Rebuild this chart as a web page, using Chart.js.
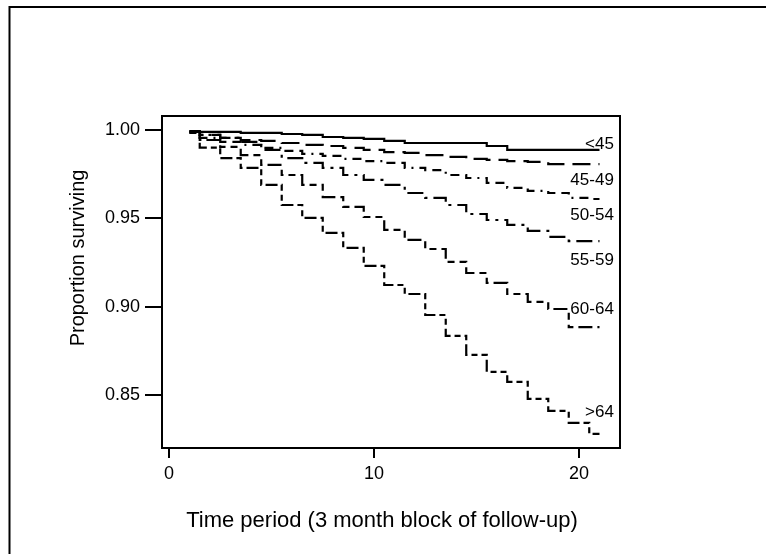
<!DOCTYPE html>
<html>
<head>
<meta charset="utf-8">
<script src="https://cdn.jsdelivr.net/npm/chart.js@4/dist/chart.umd.min.js"></script>
<style>
html,body{margin:0;padding:0;background:#fff;}
#wrap{position:relative;width:766px;height:554px;}
</style>
</head>
<body>
<div id="wrap"><canvas id="c" width="766" height="554"></canvas></div>
<script>
// ---- data ----
const periods = [1,2,3,4,5,6,7,8,9,10,11,12,13,14,15,16,17,18,19,20,21];
const groupLabels = ['<45','45-49','50-54','55-59','60-64','>64'];
const survUnder45 = [0.9994,0.9989,0.9989,0.9983,0.9983,0.9977,0.9972,0.9960,0.9955,0.9950,0.9938,0.9926,0.9926,0.9926,0.9926,0.9909,0.9887,0.9887,0.9887,0.9887,0.9887];
const surv45to49 = [0.9994,0.9972,0.9955,0.9943,0.9938,0.9926,0.9915,0.9909,0.9898,0.9887,0.9875,0.9870,0.9858,0.9847,0.9836,0.9830,0.9824,0.9819,0.9807,0.9807,0.9807];
const surv50to54 = [0.9989,0.9955,0.9932,0.9915,0.9898,0.9881,0.9864,0.9853,0.9836,0.9824,0.9813,0.9785,0.9773,0.9745,0.9728,0.9700,0.9672,0.9655,0.9643,0.9615,0.9609];
const surv55to59 = [0.9989,0.9972,0.9955,0.9932,0.9887,0.9841,0.9813,0.9785,0.9745,0.9717,0.9689,0.9643,0.9615,0.9575,0.9524,0.9490,0.9462,0.9428,0.9394,0.9371,0.9371];
const surv60to64 = [0.9983,0.9943,0.9904,0.9858,0.9802,0.9745,0.9689,0.9620,0.9564,0.9507,0.9434,0.9377,0.9326,0.9253,0.9190,0.9134,0.9071,0.9026,0.8986,0.8884,0.8884];
const survOver64 = [0.9983,0.9900,0.9841,0.9785,0.9689,0.9575,0.9502,0.9417,0.9332,0.9230,0.9122,0.9071,0.8952,0.8834,0.8726,0.8630,0.8573,0.8477,0.8409,0.8341,0.8279];
const xTickValues = [0, 10, 20];
const yTickValues = [0.85, 0.90, 0.95, 1.00];
const xTitle = 'Time period (3 month block of follow-up)';
const yTitle = 'Proportion surviving';

// ---- styling ----
const FONT = "'Liberation Sans', Arial, Helvetica, sans-serif";
Chart.defaults.font.family = FONT;
Chart.defaults.color = '#000';

const seriesValues = [survUnder45, surv45to49, surv50to54, surv55to59, surv60to64, survOver64];
const dashes = [[], [18,8], [9,6,9,6,2,6], [16,6,3,6], [7,5,7,5,14,5], [6,4,6,4,12,4]];
// label anchor (value units) for each series label
const labelAnchors = [
  {x: 21.7, y: 0.9921},
  {x: 21.7, y: 0.9717},
  {x: 21.7, y: 0.9519},
  {x: 21.7, y: 0.9264},
  {x: 21.7, y: 0.8986},
  {x: 21.7, y: 0.8403}
];

const datasets = seriesValues.map((vals, i) => ({
  label: groupLabels[i],
  data: periods.map((t, j) => ({x: t, y: vals[j]})),
  stepped: 'middle',
  borderColor: '#000',
  borderWidth: 2.2,
  borderDash: dashes[i],
  pointRadius: 0,
  fill: false
}));

const decor = {
  id: 'decor',
  afterDraw(chart) {
    const {ctx, chartArea: a, scales: {x, y}} = chart;
    ctx.save();
    ctx.strokeStyle = '#000';
    ctx.lineWidth = 2;
    ctx.setLineDash([]);
    ctx.strokeRect(a.left, a.top, a.right - a.left, a.bottom - a.top);
    // outer frame (left & top)
    ctx.beginPath();
    ctx.moveTo(9.5, 554);
    ctx.lineTo(9.5, 7);
    ctx.lineTo(766, 7);
    ctx.stroke();
    ctx.fillStyle = '#000';
    // axis titles
    ctx.font = '22px ' + FONT;
    ctx.textAlign = 'center';
    ctx.textBaseline = 'middle';
    ctx.fillText(xTitle, 382, 521);
    ctx.save();
    ctx.translate(78, 258);
    ctx.rotate(-Math.PI / 2);
    ctx.font = '20px ' + FONT;
    ctx.fillText(yTitle, 0, 0);
    ctx.restore();
    // series labels
    ctx.font = '17px ' + FONT;
    ctx.textAlign = 'right';
    ctx.textBaseline = 'middle';
    labelAnchors.forEach((p, i) => {
      ctx.fillText(groupLabels[i], x.getPixelForValue(p.x), y.getPixelForValue(p.y));
    });
    ctx.restore();
  }
};

new Chart(document.getElementById('c'), {
  type: 'line',
  data: {datasets},
  options: {
    responsive: false,
    animation: false,
    devicePixelRatio: 1,
    layout: {padding: {left: 0, top: 116, right: 146, bottom: 0}},
    plugins: {legend: {display: false}, tooltip: {enabled: false}},
    scales: {
      x: {
        type: 'linear',
        min: -0.34,
        max: 22.0,
        afterFit: s => { s.height = 106; },
        afterBuildTicks: s => { s.ticks = xTickValues.map(v => ({value: v})); },
        border: {display: false},
        grid: {drawOnChartArea: false, drawTicks: true, tickLength: 10, color: '#000', lineWidth: 2},
        ticks: {font: {size: 18}, padding: 5, color: '#000', maxRotation: 0, callback: v => String(v)}
      },
      y: {
        type: 'linear',
        min: 0.8199,
        max: 1.0079,
        afterFit: s => { s.width = 162; },
        afterBuildTicks: s => { s.ticks = yTickValues.map(v => ({value: v})); },
        border: {display: false},
        grid: {drawOnChartArea: false, drawTicks: true, tickLength: 17, color: '#000', lineWidth: 2},
        ticks: {font: {size: 18}, padding: 5, color: '#000', callback: v => Number(v).toFixed(2)}
      }
    }
  },
  plugins: [decor]
});
</script>
</body>
</html>
